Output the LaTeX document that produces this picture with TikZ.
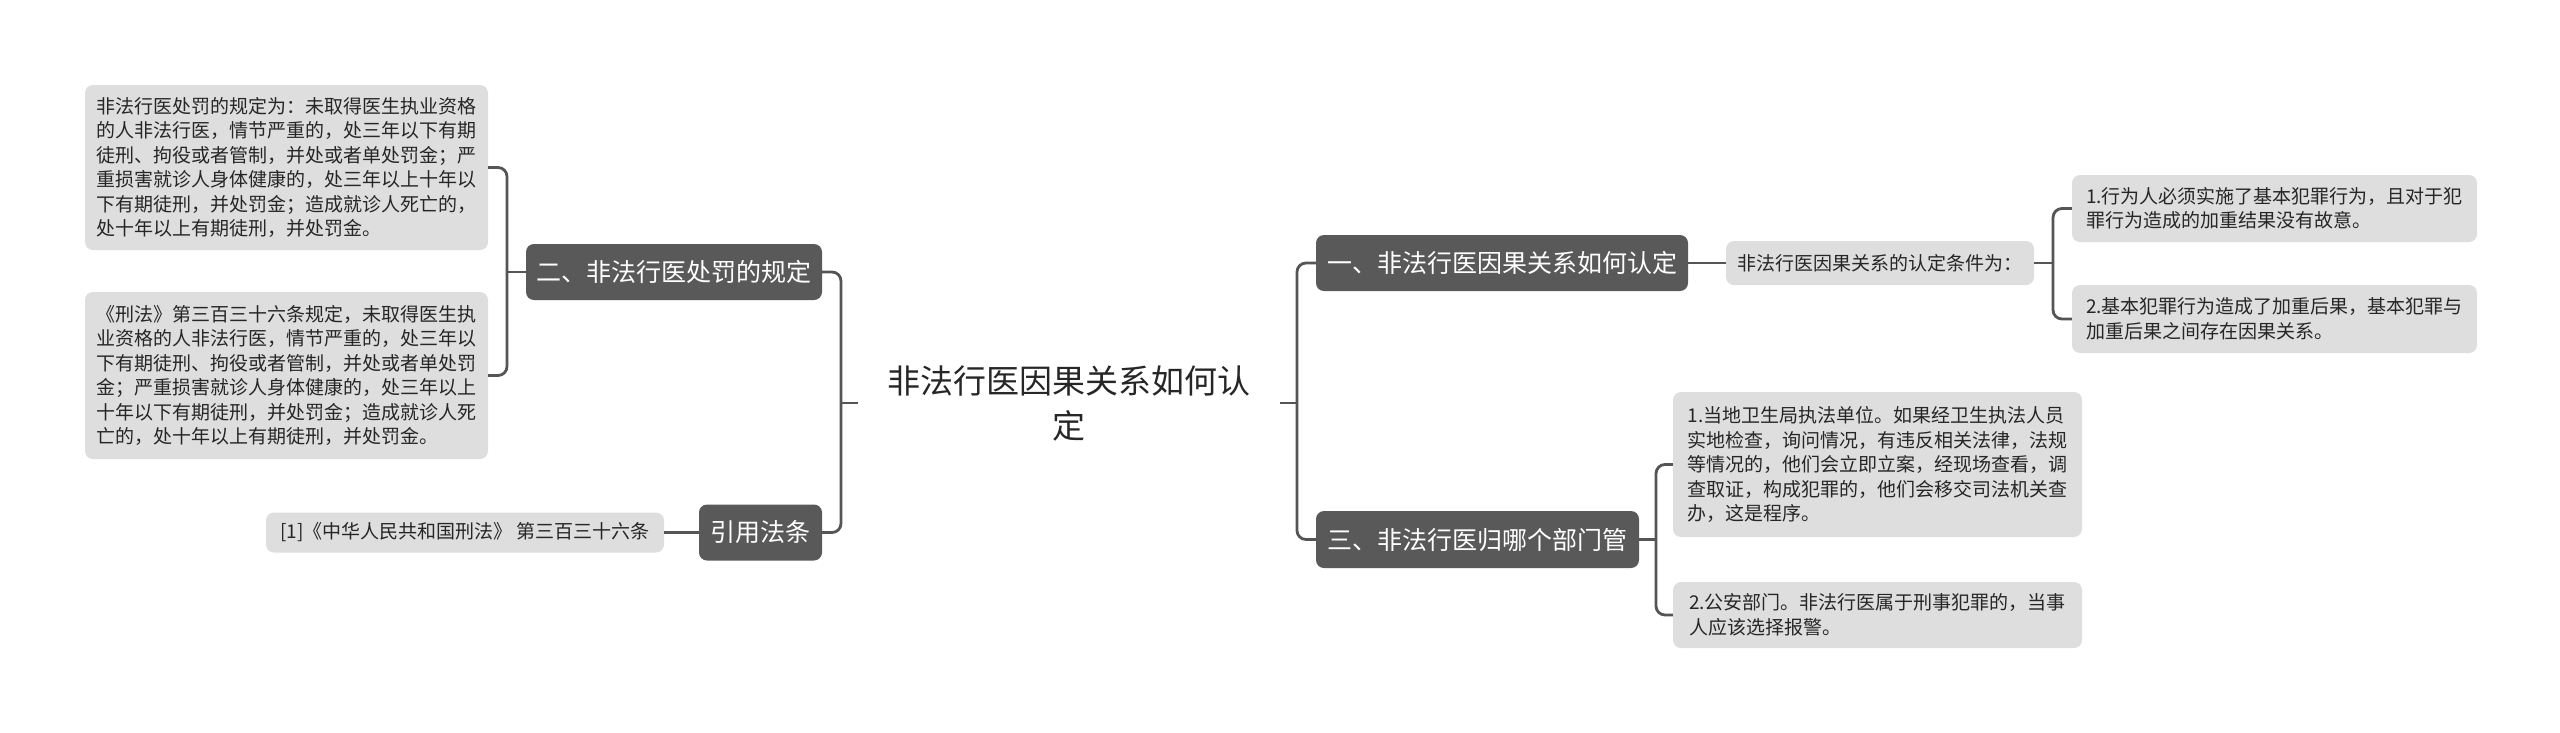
\documentclass[tikz,border=0pt]{standalone}
\usepackage{fontspec}
\setmainfont{Noto Sans CJK SC}
\definecolor{dk}{HTML}{595959}
\definecolor{lt}{HTML}{DEDEDE}
\definecolor{ln}{HTML}{555555}
\definecolor{tx}{HTML}{262626}
\begin{document}
\begin{tikzpicture}[x=1pt,y=-1pt,
  darkbox/.style={fill=dk, text=white, rounded corners=8pt, inner sep=0pt, font=\fontsize{25}{30}\selectfont},
  lightbox/.style={fill=lt, text=tx, rounded corners=8pt, inner sep=0pt, align=left, font=\fontsize{19}{24.5}\selectfont},
  rootbox/.style={text=tx, inner sep=0pt, align=center, font=\fontsize{33}{45}\selectfont},
  conn/.style={draw=ln, line width=2.8pt, rounded corners=9pt},
]
\useasboundingbox (0,0) rectangle (2560,732);

% ---- root
\node[rootbox, minimum width=422pt, minimum height=100pt] (root) at (1069,403)
  {非法行医因果关系如何认\\定};

% ---- left side
\node[darkbox, minimum width=296pt, minimum height=56pt] (n2) at (674,272) {二、非法行医处罚的规定};
\node[darkbox, minimum width=123pt, minimum height=56pt] (cite) at (760.5,532.5) {引用法条};

\node[lightbox, minimum width=403pt, minimum height=165pt] (b1) at (286.5,167.5)
  {非法行医处罚的规定为：未取得医生执业资格\\
   的人非法行医，情节严重的，处三年以下有期\\
   徒刑、拘役或者管制，并处或者单处罚金；严\\
   重损害就诊人身体健康的，处三年以上十年以\\
   下有期徒刑，并处罚金；造成就诊人死亡的，\\
   处十年以上有期徒刑，并处罚金。};
\node[lightbox, minimum width=403pt, minimum height=167pt] (b2) at (286.5,375.5)
  {《刑法》第三百三十六条规定，未取得医生执\\
   业资格的人非法行医，情节严重的，处三年以\\
   下有期徒刑、拘役或者管制，并处或者单处罚\\
   金；严重损害就诊人身体健康的，处三年以上\\
   十年以下有期徒刑，并处罚金；造成就诊人死\\
   亡的，处十年以上有期徒刑，并处罚金。};
\node[lightbox, minimum width=398pt, minimum height=40pt] (ref) at (465,532.5)
  {[1]《中华人民共和国刑法》 第三百三十六条};

% ---- right side
\node[darkbox, minimum width=372pt, minimum height=56pt] (n1) at (1502,263) {一、非法行医因果关系如何认定};
\node[darkbox, minimum width=323pt, minimum height=57pt] (n3) at (1477.5,539.5) {三、非法行医归哪个部门管};

\node[lightbox, minimum width=308pt, minimum height=44pt] (cond) at (1880,263)
  {非法行医因果关系的认定条件为：};
\node[lightbox, minimum width=405pt, minimum height=67pt] (r1) at (2274.5,208.5)
  {1.行为人必须实施了基本犯罪行为，且对于犯\\
   罪行为造成的加重结果没有故意。};
\node[lightbox, minimum width=405pt, minimum height=68pt] (r2) at (2274.5,319)
  {2.基本犯罪行为造成了加重后果，基本犯罪与\\
   加重后果之间存在因果关系。};
\node[lightbox, minimum width=409pt, minimum height=145pt] (r3) at (1877.5,464.5)
  {1.当地卫生局执法单位。如果经卫生执法人员\\
   实地检查，询问情况，有违反相关法律，法规\\
   等情况的，他们会立即立案，经现场查看，调\\
   查取证，构成犯罪的，他们会移交司法机关查\\
   办，这是程序。};
\node[lightbox, minimum width=409pt, minimum height=66pt] (r4) at (1877.5,615)
  {2.公安部门。非法行医属于刑事犯罪的，当事\\
   人应该选择报警。};

% ---- junction coordinates
\coordinate (jl) at (841,403);
\coordinate (jr) at (1297,403);
\coordinate (jb) at (507,272);
\coordinate (jc) at (2053,263);
\coordinate (j3) at (1656,539.5);

% ---- connectors
\draw[conn] (root.west) -- (jl);
\draw[conn] (n2.east) -| (jl) |- (cite.east);
\draw[conn] (root.east) -- (jr);
\draw[conn] (n1.west) -| (jr) |- (n3.west);

\draw[conn] (n2.west) -- (jb);
\draw[conn] (b1.east) -| (jb) |- (b2.east);
\draw[conn] (cite.west) -- (ref.east);

\draw[conn] (n1.east) -- (cond.west);
\draw[conn] (cond.east) -- (jc);
\draw[conn] (r1.west) -| (jc) |- (r2.west);

\draw[conn] (n3.east) -- (j3);
\draw[conn] (r3.west) -| (j3) |- (r4.west);
\end{tikzpicture}
\end{document}
